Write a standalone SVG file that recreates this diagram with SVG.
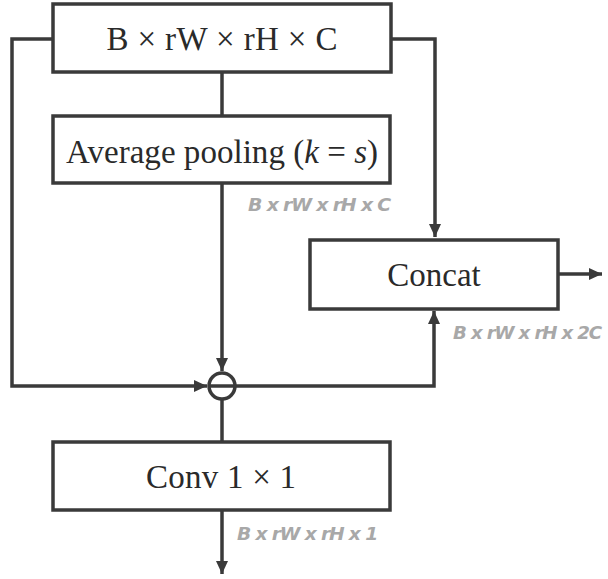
<svg xmlns="http://www.w3.org/2000/svg" width="608" height="579" viewBox="0 0 608 579">
<defs>
<marker id="ah" markerUnits="userSpaceOnUse" markerWidth="14" markerHeight="12" refX="13" refY="6" orient="auto">
<path d="M0,0 L13,6 L0,12 Z" fill="#3a3a3a"/>
</marker>
<style>
.box{fill:#fff;stroke:#3a3a3a;stroke-width:3.5}
.ln{fill:none;stroke:#3a3a3a;stroke-width:3.5}
.t{font-family:"Liberation Serif","Times New Roman",serif;font-size:33px;fill:#2a2a2a;text-anchor:middle}
.lb{font-family:"DejaVu Sans Condensed","DejaVu Sans",sans-serif;font-size:18px;font-style:italic;font-weight:bold;fill:#a8a8a8;letter-spacing:-1px}
</style>
</defs>
<g id="connectors">
<path class="ln" d="M53,39 H12 V386 H207" marker-end="url(#ah)"/>
<path class="ln" d="M391,39 H435 V237" marker-end="url(#ah)"/>
<path class="ln" d="M222,72 V115"/>
<path class="ln" d="M222,183 V371" marker-end="url(#ah)"/>
<path class="ln" d="M235,386 H434 V311" marker-end="url(#ah)"/>
<path class="ln" d="M558,274 H602" marker-end="url(#ah)"/>
<path class="ln" d="M222,399 V442"/>
<path class="ln" d="M222,510 V574" marker-end="url(#ah)"/>
</g>
<g id="input">
<rect class="box" x="53" y="4" width="338" height="68"/>
<text class="t" x="222" y="50" font-size="34" textLength="231" lengthAdjust="spacing">B × rW × rH × C</text>
</g>
<g id="avgpool">
<rect class="box" x="53" y="116" width="337" height="67"/>
<text class="t" x="222" y="163" textLength="312" lengthAdjust="spacing">Average pooling (<tspan font-style="italic">k</tspan> = <tspan font-style="italic">s</tspan>)</text>
</g>
<g id="subtract">
<circle cx="222" cy="386" r="13" fill="#fff" stroke="#3a3a3a" stroke-width="3.5"/>
<line x1="209" y1="386" x2="235" y2="386" stroke="#3a3a3a" stroke-width="3.5"/>
</g>
<g id="concat">
<rect class="box" x="310" y="240" width="248" height="69"/>
<text class="t" x="434" y="286">Concat</text>
</g>
<g id="conv">
<rect class="box" x="53" y="442" width="337" height="68"/>
<text class="t" x="221" y="488" textLength="150" lengthAdjust="spacing">Conv 1 × 1</text>
</g>
<g id="labels">
<text class="lb" x="248" y="211" textLength="142" lengthAdjust="spacingAndGlyphs">B x rW x rH x C</text>
<text class="lb" x="453" y="339" textLength="148" lengthAdjust="spacingAndGlyphs">B x rW x rH x 2C</text>
<text class="lb" x="237" y="540" textLength="140" lengthAdjust="spacingAndGlyphs">B x rW x rH x 1</text>
</g>
</svg>
